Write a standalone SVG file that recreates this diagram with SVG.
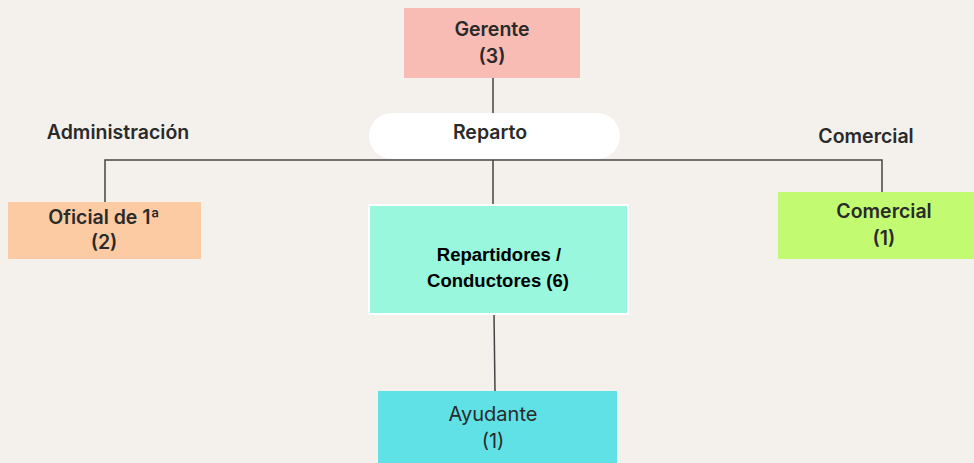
<svg xmlns="http://www.w3.org/2000/svg" width="974" height="463" viewBox="0 0 974 463">
<style>
.t{font-family:Inter,"Noto Sans",sans-serif;font-weight:600;fill:#2a2a2a;text-anchor:middle;font-size:19.5px}
.a{font-family:"Liberation Sans",Arial,sans-serif;font-weight:bold;fill:#000;text-anchor:middle;font-size:18.5px}
.r{font-family:Inter,"Noto Sans",sans-serif;font-weight:400;fill:#2a2a2a;text-anchor:middle;font-size:20px}
.c{stroke:#444;stroke-width:1.5;fill:none}
</style>
<rect width="974" height="463" fill="#f4f0eb"/>
<g id="connectors">
<line class="c" x1="493" y1="78" x2="493" y2="114"/>
<polyline class="c" points="105,202 105,160 882,160 882,192"/>
<line class="c" x1="493" y1="160" x2="493" y2="205"/>
<line class="c" x1="494" y1="314" x2="495" y2="391"/>
</g>
<g id="gerente">
<rect x="404" y="8" width="176" height="70" fill="#f9bcb5"/>
<text class="t" x="492" y="36">Gerente</text>
<text class="t" x="492" y="63">(3)</text>
</g>
<g id="reparto">
<rect x="369" y="113" width="251" height="46" rx="23" fill="#ffffff"/>
<text class="t" x="490" y="139">Reparto</text>
</g>
<g id="administracion">
<text class="t" x="118" y="139">Administración</text>
</g>
<g id="comercial-label">
<text class="t" x="866" y="143">Comercial</text>
</g>
<g id="oficial">
<rect x="8" y="202" width="193" height="57" fill="#fdcba3"/>
<text class="t" x="104" y="224">Oficial de 1ª</text>
<text class="t" x="104" y="249">(2)</text>
</g>
<g id="comercial">
<rect x="778" y="192" width="196" height="67" fill="#c2fb71"/>
<text class="t" x="884" y="218">Comercial</text>
<text class="t" x="884" y="245">(1)</text>
</g>
<g id="repartidores">
<rect x="369" y="205" width="259" height="109" fill="#98f7dc" stroke="#ffffff" stroke-width="2"/>
<text class="a" x="499" y="261">Repartidores /</text>
<text class="a" x="498" y="287">Conductores (6)</text>
</g>
<g id="ayudante">
<rect x="378" y="391" width="239" height="72" fill="#5fe1e6"/>
<text class="r" x="493" y="421">Ayudante</text>
<text class="r" x="493" y="448">(1)</text>
</g>
</svg>
